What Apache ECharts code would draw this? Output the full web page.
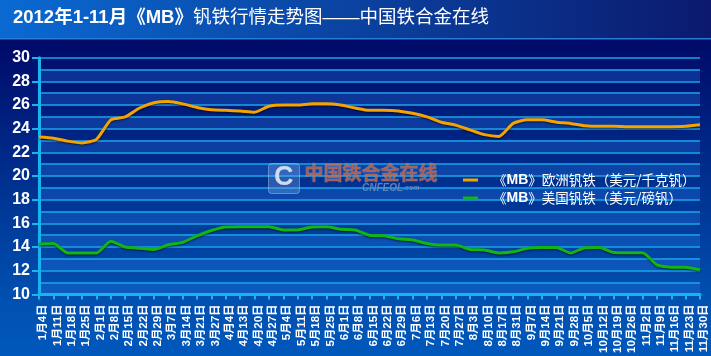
<!DOCTYPE html>
<html><head><meta charset="utf-8">
<script src="https://cdn.jsdelivr.net/npm/echarts@6/dist/echarts.min.js"></script>
<style>html,body{margin:0;padding:0;background:#000a68;}#c{width:711px;height:356px;}</style>
</head><body><div id="c"></div>
<script>
const titleText = '2012年1-11月《MB》钒铁行情走势图——中国铁合金在线';
const categories = ['1月4日','1月11日','1月18日','1月25日','2月1日','2月8日','2月15日','2月22日','2月29日','3月7日','3月14日','3月21日','3月27日','4月4日','4月13日','4月20日','4月27日','5月4日','5月11日','5月18日','5月25日','6月1日','6月8日','6月15日','6月22日','6月29日','7月6日','7月13日','7月20日','7月27日','8月3日','8月10日','8月17日','8月31日','9月7日','9月14日','9月21日','9月28日','10月5日','10月12日','10月19日','10月26日','11月2日','11月9日','11月16日','11月23日','11月30日'];
const seriesNames = ['《MB》欧洲钒铁（美元/千克钒）','《MB》美国钒铁（美元/磅钒）'];
const europe = [23.3,23.2,22.95,22.8,23.1,24.75,25.0,25.75,26.2,26.3,26.1,25.8,25.6,25.55,25.5,25.4,25.9,26.0,26.0,26.1,26.1,26.0,25.75,25.55,25.55,25.5,25.3,25.0,24.55,24.3,23.9,23.5,23.35,24.45,24.75,24.75,24.55,24.45,24.25,24.2,24.2,24.17,24.17,24.17,24.17,24.2,24.33];
const usa = [14.25,14.3,13.5,13.5,13.5,14.5,14.0,13.9,13.8,14.2,14.4,14.95,15.4,15.7,15.72,15.72,15.72,15.45,15.45,15.7,15.72,15.5,15.45,15.0,14.95,14.7,14.6,14.3,14.17,14.17,13.8,13.75,13.5,13.6,13.9,13.97,13.97,13.5,13.95,13.97,13.55,13.53,13.53,12.5,12.3,12.3,12.08];
const yMin = 10, yMax = 30, yStep = 2;
const watermarkCn = '中国铁合金在线', watermarkEn = 'CNFEOL', watermarkDom = '.com';

const chart = echarts.init(document.getElementById('c'));
const cyan = '#18b4f0';
chart.setOption({
  animation: false,
  backgroundColor: new echarts.graphic.LinearGradient(0,0,0,1,[
    {offset:0,color:'#000a68'},{offset:0.112,color:'#000a68'},{offset:0.837,color:'#0050b0'},{offset:1,color:'#0058bc'}]),
  title: {
    text: '{b|2012年1-11月《MB》}{n|钒铁行情走势图——中国铁合金在线}',
    left: 8, top: 4,
    textStyle: {
      rich: {
        b: {fontSize:18.5, fontWeight:'bold', color:'#fff', fontFamily:'Liberation Sans, Noto Sans CJK SC'},
        n: {fontSize:18.5, fontWeight:'normal', color:'#fff', fontFamily:'Liberation Sans, Noto Sans CJK SC'}
      }
    }
  },
  graphic: [
    {type:'rect', left:0, top:0, z:-1, shape:{width:711,height:39},
     style:{fill:new echarts.graphic.LinearGradient(0,0,1,0,[{offset:0,color:'#0a6ad2'},{offset:1,color:'#0b1a6e'}])}},
    {type:'rect', left:0, top:38, z:-1, shape:{width:711,height:1.5}, style:{fill:'#2a7ad8'}},
    {type:'rect', left:268, top:163, z:5, shape:{width:31,height:30,r:3},
     style:{fill:'rgba(120,170,230,0.35)', stroke:'rgba(160,200,240,0.5)', lineWidth:1}},
    {type:'text', left:274, top:164, z:6, style:{text:'C', fill:'rgba(225,232,245,0.9)', font:'bold 27px Liberation Sans'}},
    {type:'text', left:304, top:163, z:6, style:{text:watermarkCn, fill:'rgba(200,105,72,0.8)', font:'bold 19px Noto Sans CJK SC', stroke:'rgba(170,190,220,0.3)', lineWidth:1}},
    {type:'text', left:362, top:183, z:6, style:{text:'{a|'+watermarkEn+'}{d|'+watermarkDom+'}', rich:{a:{font:'italic bold 10px Liberation Sans', fill:'rgba(110,140,190,0.85)'}, d:{font:'italic bold 7px Liberation Sans', fill:'rgba(110,140,190,0.85)'}}}}
  ],
  legend: {
    orient:'vertical', left:458, top:168, itemWidth:15, itemHeight:3, itemGap:4, icon:'rect',
    data: seriesNames,
    formatter: n => n.replace('MB','{m|MB}'),
    textStyle: {color:'#fff', fontSize:13.5, lineHeight:14, padding:[0,0,0,10], fontFamily:'Noto Sans CJK SC',
      rich:{m:{fontWeight:'bold', fontSize:14, color:'#fff', fontFamily:'Liberation Sans', padding:[0,0,0,0]}}}
  },
  grid: {left:39, right:11, top:57.7, bottom:58.3},
  xAxis: {
    type:'category', data:categories, boundaryGap:false,
    axisLine:{lineStyle:{color:cyan, width:3}},
    axisTick:{show:true, interval:0, length:5, lineStyle:{color:cyan, width:2}},
    axisLabel:{interval:0, rotate:90, margin:10, color:'#fff', fontSize:11.5, fontWeight:'bold',
      verticalAlign:'top', lineHeight:8,
      fontFamily:'Liberation Sans, Noto Sans CJK SC'},
    splitLine:{show:false}
  },
  yAxis: [
    {type:'value', min:yMin, max:yMax, interval:yStep, position:'left',
     axisLine:{show:true, lineStyle:{color:cyan, width:3}},
     axisTick:{show:true, length:7, lineStyle:{color:cyan, width:2}},
     axisLabel:{color:'#fff', fontSize:16, fontWeight:'bold', margin:9, fontFamily:'Liberation Sans'},
     splitLine:{show:false}},
    {type:'value', min:yMin, max:yMax, interval:1, position:'left',
     axisLine:{show:false}, axisTick:{show:false}, axisLabel:{show:false},
     splitLine:{show:true, lineStyle:{color:'#1aa6ea', width:1.5}},
     splitArea:{show:true, areaStyle:{color:['rgba(40,120,230,0.3)','rgba(0,0,0,0)']}}}
  ],
  series: [
    {name:seriesNames[0], type:'line', data:europe, yAxisIndex:0, showSymbol:false, smooth:0.2, z:10,
     lineStyle:{color:'#f5a300', width:3, shadowColor:'rgba(0,0,0,0.6)', shadowBlur:2, shadowOffsetY:1},
     itemStyle:{color:'#f5a300'}},
    {name:seriesNames[1], type:'line', data:usa, yAxisIndex:0, showSymbol:false, smooth:0.2, z:10,
     lineStyle:{color:'#12b512', width:3, shadowColor:'rgba(0,0,0,0.6)', shadowBlur:2, shadowOffsetY:1},
     itemStyle:{color:'#12b512'}}
  ]
});
</script></body></html>
